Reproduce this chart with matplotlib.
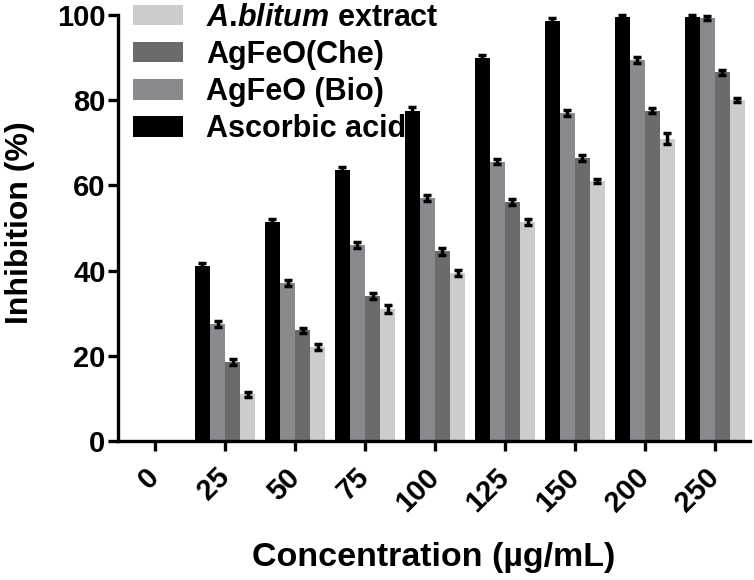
import numpy as np
import matplotlib.pyplot as plt
from matplotlib.patches import Patch

plt.rcParams['font.family'] = 'Liberation Sans'
plt.rcParams['font.weight'] = 'bold'
plt.rcParams['mathtext.fontset'] = 'custom'
plt.rcParams['mathtext.it'] = 'Liberation Sans:bold:italic'

# data
concentrations = ['0', '25', '50', '75', '100', '125', '150', '200', '250']
ascorbic = [0, 41.0, 51.5, 63.5, 77.5, 90.0, 98.5, 99.5, 99.5]
agfeo_bio = [0, 27.5, 37.0, 46.0, 57.0, 65.5, 77.0, 89.5, 99.3]
agfeo_che = [0, 18.5, 26.0, 34.0, 44.5, 56.0, 66.5, 77.5, 86.5]
extract = [0, 11.0, 22.0, 31.0, 39.5, 51.5, 61.0, 71.0, 80.0]
err_asc = [0, 0.8, 0.7, 0.7, 0.8, 0.7, 0.7, 0.4, 0.4]
err_bio = [0, 0.7, 0.7, 0.7, 0.7, 0.6, 0.7, 0.7, 0.5]
err_che = [0, 0.7, 0.6, 0.7, 0.8, 0.7, 0.7, 0.6, 0.6]
err_ext = [0, 0.6, 0.7, 1.0, 0.7, 0.7, 0.5, 1.3, 0.5]

extract_label = r'$\mathit{A}$.$\mathit{blitum}$ extract'
series = [
    ('Ascorbic acid', ascorbic, err_asc, '#000000'),
    ('AgFeO (Bio)', agfeo_bio, err_bio, '#8a8a8e'),
    ('AgFeO(Che)', agfeo_che, err_che, '#6b6b6b'),
    (extract_label, extract, err_ext, '#cccccc'),
]

fig = plt.figure(figsize=(7.54, 5.8), dpi=100)
ax = fig.add_axes([0.1565, 0.2397, 0.838, 0.7345])

x = np.arange(len(concentrations))
w = 0.215
handles = {}
for i, (name, vals, errs, col) in enumerate(series):
    pos = x + (i - 1.5) * w
    mask = np.array(vals) > 0
    ax.bar(pos[mask], np.array(vals)[mask], width=w, color=col, edgecolor='none', zorder=2)
    ax.errorbar(pos[mask], np.array(vals)[mask], yerr=np.array(errs)[mask], fmt='none',
                ecolor='black', elinewidth=2.5, capsize=3, capthick=2.5, clip_on=False, zorder=3)
    handles[name] = Patch(facecolor=col, edgecolor='none')

ax.set_xlim(-0.53, 8.5)
ax.set_ylim(0, 100)
ax.set_yticks([0, 20, 40, 60, 80, 100])
ax.set_xticks(x)
ax.set_xticklabels(concentrations, rotation=45, ha='right', va='center', rotation_mode='anchor')

for s in ['top', 'right']:
    ax.spines[s].set_visible(False)
for s in ['left', 'bottom']:
    ax.spines[s].set_linewidth(2.4)
ax.tick_params(axis='both', width=2.4, length=7)
ax.tick_params(axis='y', labelsize=21, pad=2)
ax.tick_params(axis='x', labelsize=21, pad=16)

ax.set_ylabel('Inhibition (%)', fontsize=23, fontweight='bold')
ax.set_xlabel('Concentration (\u00b5g/mL)', fontsize=24.5, fontweight='bold')
ax.yaxis.set_label_coords(-0.131, 0.513)
ax.xaxis.set_label_coords(0.5, -0.237)

order = [extract_label, 'AgFeO(Che)', 'AgFeO (Bio)', 'Ascorbic acid']
leg = ax.legend([handles[n] for n in order], order, loc='upper left',
                bbox_to_anchor=(133 / 754, 1 - 3 / 580), bbox_transform=fig.transFigure,
                frameon=False, fontsize=22, borderpad=0, borderaxespad=0,
                handlelength=1.64, handleheight=0.65, labelspacing=0.23, handletextpad=0.75)

fig.savefig('out.png', dpi=100)
